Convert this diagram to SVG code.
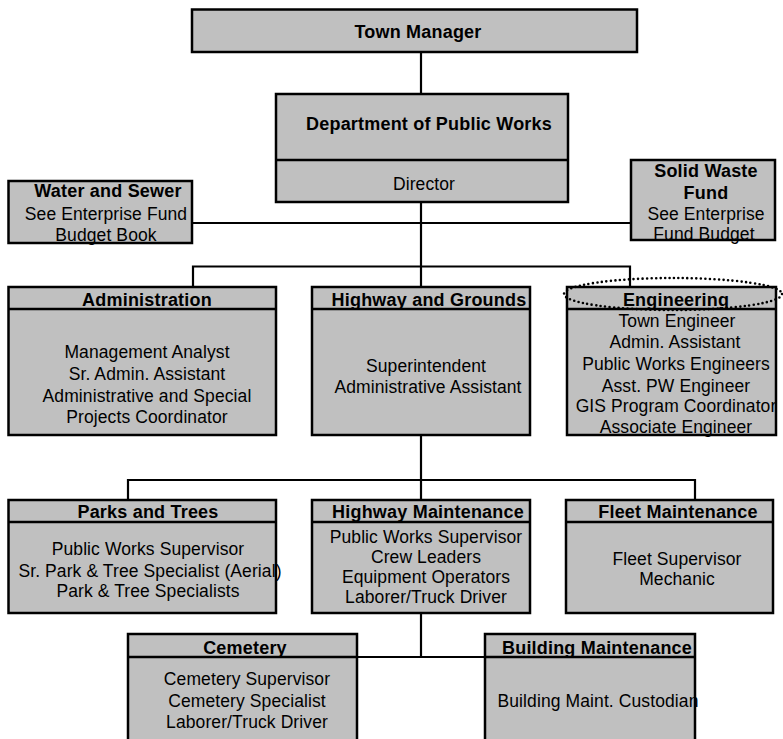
<svg xmlns="http://www.w3.org/2000/svg" width="783" height="739" viewBox="0 0 783 739">
<style>
.box{fill:#c0c0c0;stroke:#000;stroke-width:2.5}
.div{stroke:#000;stroke-width:2.5;fill:none}
.con{stroke:#000;stroke-width:2.2;fill:none}
text{font-family:"Liberation Sans",Arial,sans-serif;fill:#000;text-anchor:middle}
.t{font-size:18px;font-weight:bold;letter-spacing:0.2px}
.b{font-size:17.5px;letter-spacing:0.1px}
</style>
<rect width="783" height="739" fill="#fff"/>
<g id="connectors">
<line class="con" x1="421" y1="52" x2="421" y2="94"/>
<line class="con" x1="192" y1="223" x2="631" y2="223"/>
<line class="con" x1="421" y1="202" x2="421" y2="287"/>
<polyline class="con" points="193,287 193,266.5 630,266.5 630,287"/>
<line class="con" x1="421" y1="435" x2="421" y2="500"/>
<polyline class="con" points="128,500 128,480 695,480 695,500"/>
<line class="con" x1="421" y1="613" x2="421" y2="657"/>
<line class="con" x1="357" y1="657" x2="485" y2="657"/>
</g>
<g id="town-manager">
<rect class="box" x="192" y="9.5" width="445" height="42.5"/>
<text class="t" x="418" y="38">Town Manager</text>
</g>
<g id="dpw">
<rect class="box" x="276" y="94" width="292" height="108"/>
<line class="div" x1="276" y1="160" x2="568" y2="160"/>
<text class="t" x="429" y="130">Department of Public Works</text>
<text class="b" x="424" y="190">Director</text>
</g>
<g id="water-sewer">
<rect class="box" x="8.5" y="181" width="183.5" height="62"/>
<text class="t" x="108" y="197">Water and Sewer</text>
<text class="b" x="106" y="220">See Enterprise Fund</text>
<text class="b" x="106" y="241">Budget Book</text>
</g>
<g id="solid-waste">
<rect class="box" x="631" y="160" width="144" height="80"/>
<text class="t" x="706" y="177">Solid Waste</text>
<text class="t" x="706" y="199">Fund</text>
<text class="b" x="706" y="219.5">See Enterprise</text>
<text class="b" x="704" y="239.5">Fund Budget</text>
</g>
<g id="administration">
<rect class="box" x="8.5" y="287" width="267.5" height="148"/>
<text class="t" x="147" y="306">Administration</text>
<line class="div" x1="8.5" y1="309" x2="276" y2="309"/>
<text class="b" x="147" y="358">Management Analyst</text>
<text class="b" x="147" y="380">Sr. Admin. Assistant</text>
<text class="b" x="147" y="401.5">Administrative and Special</text>
<text class="b" x="147" y="423">Projects Coordinator</text>
</g>
<g id="highway-grounds">
<rect class="box" x="312" y="287" width="218" height="148"/>
<text class="t" x="429" y="306">Highway and Grounds</text>
<line class="div" x1="312" y1="309" x2="530" y2="309"/>
<text class="b" x="426" y="371.5">Superintendent</text>
<text class="b" x="428" y="393">Administrative Assistant</text>
</g>
<g id="engineering">
<rect class="box" x="567" y="287" width="209" height="148"/>
<text class="t" x="676" y="306">Engineering</text>
<line class="div" x1="567" y1="309" x2="776" y2="309"/>
<text class="b" x="677" y="327">Town Engineer</text>
<text class="b" x="675" y="348">Admin. Assistant</text>
<text class="b" x="676" y="370">Public Works Engineers</text>
<text class="b" x="676" y="391.5">Asst. PW Engineer</text>
<text class="b" x="676" y="412">GIS Program Coordinator</text>
<text class="b" x="676" y="433">Associate Engineer</text>
<ellipse cx="673" cy="294" rx="109" ry="16" fill="none" stroke="#000" stroke-width="2.6" stroke-linecap="round" stroke-dasharray="0 4.5"/>
</g>
<g id="parks-trees">
<rect class="box" x="8.5" y="500" width="267.5" height="113"/>
<text class="t" x="148" y="518">Parks and Trees</text>
<line class="div" x1="8.5" y1="522" x2="276" y2="522"/>
<text class="b" x="148" y="555">Public Works Supervisor</text>
<text class="b" x="150" y="577">Sr. Park &amp; Tree Specialist (Aerial)</text>
<text class="b" x="148" y="597">Park &amp; Tree Specialists</text>
</g>
<g id="highway-maintenance">
<rect class="box" x="312" y="500" width="218" height="113"/>
<text class="t" x="428" y="518">Highway Maintenance</text>
<line class="div" x1="312" y1="522" x2="530" y2="522"/>
<text class="b" x="426" y="543">Public Works Supervisor</text>
<text class="b" x="426" y="563">Crew Leaders</text>
<text class="b" x="426" y="583">Equipment Operators</text>
<text class="b" x="426" y="603">Laborer/Truck Driver</text>
</g>
<g id="fleet-maintenance">
<rect class="box" x="566" y="500" width="207" height="113"/>
<text class="t" x="678" y="518">Fleet Maintenance</text>
<line class="div" x1="566" y1="522" x2="773" y2="522"/>
<text class="b" x="677" y="565">Fleet Supervisor</text>
<text class="b" x="677" y="585">Mechanic</text>
</g>
<g id="cemetery">
<rect class="box" x="128" y="634" width="229" height="115"/>
<text class="t" x="245" y="654">Cemetery</text>
<line class="div" x1="128" y1="657" x2="357" y2="657"/>
<text class="b" x="247" y="685">Cemetery Supervisor</text>
<text class="b" x="247" y="707">Cemetery Specialist</text>
<text class="b" x="247" y="728">Laborer/Truck Driver</text>
</g>
<g id="building-maintenance">
<rect class="box" x="485" y="634" width="210" height="115"/>
<text class="t" x="597" y="654">Building Maintenance</text>
<line class="div" x1="485" y1="657" x2="695" y2="657"/>
<text class="b" x="598" y="707">Building Maint.  Custodian</text>
</g>
</svg>
